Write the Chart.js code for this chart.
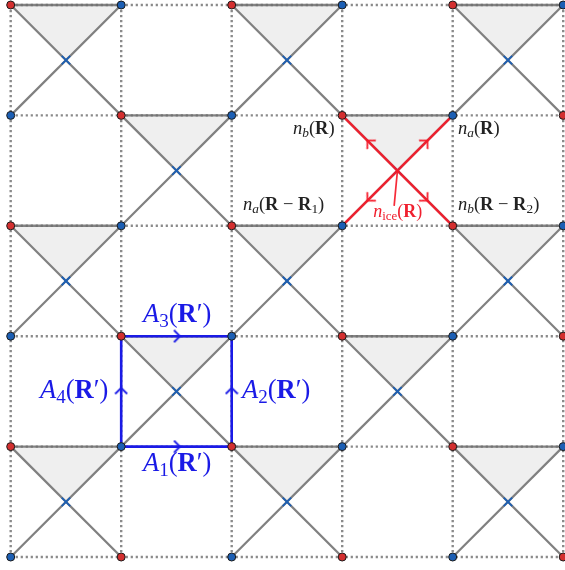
<!DOCTYPE html>
<html>
<head>
<meta charset="utf-8">
<style>
  html, body { margin: 0; padding: 0; background: #fff; }
  canvas { display: block; }
</style>
<script src="https://cdn.jsdelivr.net/npm/chart.js@4/dist/chart.umd.min.js"></script>
</head>
<body>
<canvas id="chart" width="565" height="570"></canvas>
<script>
// lattice lines, in lattice units
const columns = [0, 1, 2, 3, 4, 5];
const rows = [0, 1, 2, 3, 4, 5];
// top-left corner of each crossed plaquette
const plaquettes = [
  [0, 0], [2, 0], [4, 0],
  [1, 1], [3, 1],
  [0, 2], [2, 2], [4, 2],
  [1, 3], [3, 3],
  [0, 4], [2, 4], [4, 4]
];
const icePlaquette = [3, 1];
const loopPlaquette = [1, 3];
const iceStem = [[3.5, 1.5], [3.47, 1.82]];

const labelRuns = [
  { at: [2.555, 1.168], size: 18.5, color: '#222', runs: [['n', 'i'], ['b', 's'], ['(', 'r'], ['R', 'b'], [')', 'r']] },
  { at: [4.048, 1.168], size: 18.5, color: '#222', runs: [['n', 'i'], ['a', 's'], ['(', 'r'], ['R', 'b'], [')', 'r']] },
  { at: [2.102, 1.857], size: 18.5, color: '#222', runs: [['n', 'i'], ['a', 's'], ['(', 'r'], ['R', 'b'], [' − ', 'r'], ['R', 'b'], ['1', 'u'], [')', 'r']] },
  { at: [4.048, 1.857], size: 18.5, color: '#222', runs: [['n', 'i'], ['b', 's'], ['(', 'r'], ['R', 'b'], [' − ', 'r'], ['R', 'b'], ['2', 'u'], [')', 'r']] },
  { at: [3.28, 1.92], size: 18, color: '#f0202f', runs: [['n', 'i'], ['ice', 'u'], ['(', 'r'], ['R', 'b'], [')', 'r']] },
  { at: [1.197, 2.87], size: 26.5, color: '#1a1ae6', runs: [['A', 'i'], ['3', 'u'], ['(', 'r'], ['R', 'b'], ['′', 'r'], [')', 'r']] },
  { at: [0.265, 3.56], size: 26.5, color: '#1a1ae6', runs: [['A', 'i'], ['4', 'u'], ['(', 'r'], ['R', 'b'], ['′', 'r'], [')', 'r']] },
  { at: [2.093, 3.56], size: 26.5, color: '#1a1ae6', runs: [['A', 'i'], ['2', 'u'], ['(', 'r'], ['R', 'b'], ['′', 'r'], [')', 'r']] },
  { at: [1.197, 4.22], size: 26.5, color: '#1a1ae6', runs: [['A', 'i'], ['1', 'u'], ['(', 'r'], ['R', 'b'], ['′', 'r'], [')', 'r']] }
];

const GRAY = '#808080';
const RED_NODE = '#d32f2f';
const BLUE_NODE = '#1c5fb4';
const ICE_RED = 'rgba(245,25,40,0.92)';
const LOOP_BLUE = '#1a1ae6';

function makeChevron(color) {
  const c = document.createElement('canvas');
  c.width = 14; c.height = 14;
  const g = c.getContext('2d');
  g.strokeStyle = color;
  g.lineWidth = 1.8;
  g.beginPath();
  g.moveTo(4.5, 1);
  g.lineTo(10.5, 7);
  g.lineTo(4.5, 13);
  g.stroke();
  return c;
}

function pts(list) {
  return list.map(p => ({ x: p[0], y: p[1] }));
}

function lineSet(list, color, width, extra) {
  return Object.assign({
    data: pts(list), showLine: true, borderColor: color, borderWidth: width,
    pointRadius: 0, fill: false, tension: 0, clip: false
  }, extra || {});
}

const datasets = [];

// shaded triangles go first, everything else sits on top
plaquettes.forEach(([i, j], n) => {
  datasets.push(lineSet([[i, j], [i + 1, j], [i + 0.5, j + 0.5], [i, j]], 'rgba(0,0,0,0)', 0, {
    fill: 'shape', backgroundColor: '#efefef', order: 100 + n
  }));
});

// dotted square lattice
columns.forEach(c => {
  datasets.push(lineSet([[c, rows[0]], [c, rows[rows.length - 1]]], '#8a8a8a', 2.4, { borderDash: [2.2, 2.8], order: 90 }));
});
rows.forEach(r => {
  datasets.push(lineSet([[columns[0], r], [columns[columns.length - 1], r]], '#8a8a8a', 2.4, { borderDash: [2.2, 2.8], order: 90 }));
});

// crosses and the solid top edge of each triangle
plaquettes.forEach(([i, j]) => {
  datasets.push(lineSet([[i, j], [i + 1, j]], 'rgba(110,110,110,0.85)', 2.4, { order: 80 }));
  datasets.push(lineSet([[i, j], [i + 1, j + 1]], GRAY, 2.2, { order: 80 }));
  datasets.push(lineSet([[i + 1, j], [i, j + 1]], GRAY, 2.2, { order: 80 }));
});
datasets.push({
  data: pts(plaquettes.map(([i, j]) => [i + 0.5, j + 0.5])),
  pointStyle: 'crossRot', pointRadius: 6, borderColor: BLUE_NODE, borderWidth: 1.8,
  showLine: false, clip: false, order: 70
});

// red ice plaquette
const [ix, iy] = icePlaquette;
datasets.push(lineSet([[ix, iy], [ix + 1, iy + 1]], ICE_RED, 2.5, { order: 60 }));
datasets.push(lineSet([[ix + 1, iy], [ix, iy + 1]], ICE_RED, 2.5, { order: 60 }));
datasets.push(lineSet(iceStem, ICE_RED, 1.7, { order: 60 }));
const iceChevron = makeChevron(ICE_RED);
datasets.push({
  data: pts([[ix + 0.25, iy + 0.25], [ix + 0.75, iy + 0.25], [ix + 0.25, iy + 0.75], [ix + 0.75, iy + 0.75]]),
  pointStyle: iceChevron, pointRadius: 7, rotation: [225, -45, 135, 45],
  showLine: false, clip: false, order: 59
});

// blue loop
const [lx, ly] = loopPlaquette;
datasets.push(lineSet([[lx, ly + 1], [lx + 1, ly + 1], [lx + 1, ly], [lx, ly], [lx, ly + 1]], LOOP_BLUE, 2.6, { order: 55 }));
const loopChevron = makeChevron(LOOP_BLUE);
datasets.push({
  data: pts([[lx + 0.5, ly + 1], [lx + 1, ly + 0.5], [lx + 0.5, ly], [lx, ly + 0.5]]),
  pointStyle: loopChevron, pointRadius: 7, rotation: [0, -90, 0, -90],
  showLine: false, clip: false, order: 54
});

// lattice sites, checkerboard colouring
const sites = [];
columns.forEach(c => rows.forEach(r => sites.push([c, r])));
datasets.push({
  data: pts(sites),
  pointStyle: 'circle', pointRadius: 4, borderColor: '#1a1a1a', borderWidth: 1,
  backgroundColor: sites.map(([c, r]) => (c + r) % 2 === 0 ? RED_NODE : BLUE_NODE),
  showLine: false, clip: false, order: 10
});

const mathLabels = {
  id: 'mathLabels',
  afterDatasetsDraw(chart) {
    const { ctx, scales } = chart;
    ctx.save();
    ctx.textBaseline = 'alphabetic';
    ctx.textAlign = 'left';
    labelRuns.forEach(l => {
      let px = scales.x.getPixelForValue(l.at[0]);
      const py = scales.y.getPixelForValue(l.at[1]);
      ctx.fillStyle = l.color;
      l.runs.forEach(([txt, kind]) => {
        let font = `${l.size}px "Liberation Serif"`, dy = 0;
        if (kind === 'i') font = `italic ${l.size}px "Liberation Serif"`;
        if (kind === 'b') font = `bold ${l.size}px "Liberation Serif"`;
        if (kind === 's') { font = `italic ${l.size * 0.72}px "Liberation Serif"`; dy = l.size * 0.18; }
        if (kind === 'u') { font = `${l.size * 0.72}px "Liberation Serif"`; dy = l.size * 0.18; }
        ctx.font = font;
        ctx.fillText(txt, px, py + dy);
        px += ctx.measureText(txt).width;
      });
    });
    ctx.restore();
  }
};

new Chart(document.getElementById('chart').getContext('2d'), {
  type: 'scatter',
  data: { datasets },
  options: {
    responsive: false,
    animation: false,
    devicePixelRatio: 1,
    layout: { autoPadding: false, padding: { left: 10.7, right: 1.8, top: 5, bottom: 13 } },
    scales: {
      x: { type: 'linear', display: false, min: 0, max: 5 },
      y: { type: 'linear', display: false, min: 0, max: 5, reverse: true }
    },
    plugins: { legend: { display: false }, tooltip: { enabled: false } }
  },
  plugins: [mathLabels]
});
</script>
</body>
</html>
